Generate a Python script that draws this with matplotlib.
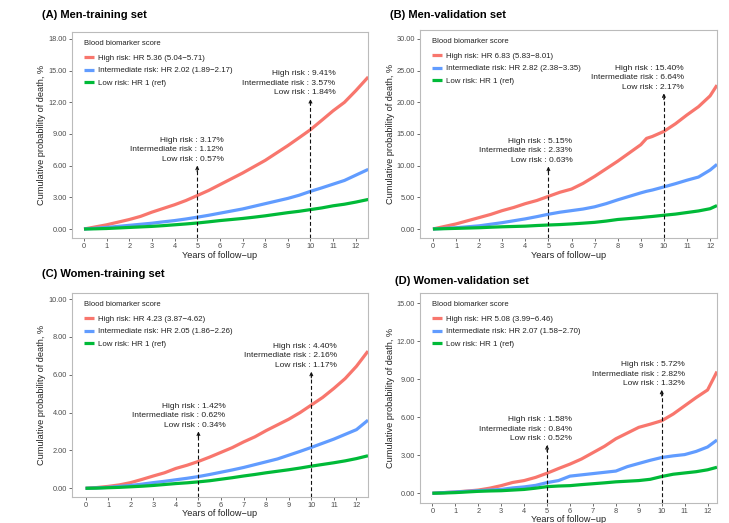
import matplotlib
matplotlib.use('Agg')
import matplotlib.pyplot as plt

plt.rcParams['font.family'] = ['Liberation Sans', 'DejaVu Sans']

# ---------------- data ----------------
years_a = [0, 0.5, 1, 1.5, 2, 2.5, 3, 3.5, 4, 4.5, 5, 5.5, 6, 6.5, 7, 7.5, 8, 8.5, 9, 9.5, 10, 10.5, 11, 11.5, 12, 12.55]
high_a = [0, 0.2, 0.4, 0.65, 0.9, 1.2, 1.6, 1.95, 2.3, 2.7, 3.17, 3.65, 4.2, 4.75, 5.3, 5.9, 6.5, 7.2, 7.9, 8.65, 9.41, 10.3, 11.2, 12.0, 13.1, 14.4]
mid_a = [0, 0.07, 0.15, 0.25, 0.35, 0.45, 0.55, 0.68, 0.8, 0.95, 1.12, 1.3, 1.5, 1.7, 1.9, 2.15, 2.4, 2.65, 2.9, 3.2, 3.57, 3.9, 4.25, 4.6, 5.1, 5.65]
low_a = [0, 0.02, 0.05, 0.1, 0.15, 0.2, 0.25, 0.32, 0.4, 0.48, 0.57, 0.68, 0.8, 0.9, 1.0, 1.12, 1.25, 1.4, 1.55, 1.68, 1.84, 2.0, 2.2, 2.35, 2.55, 2.8]

years_b = [0, 0.5, 1, 1.5, 2, 2.5, 3, 3.5, 4, 4.5, 5, 5.5, 6, 6.5, 7, 7.5, 8, 8.5, 9, 9.25, 9.5, 10, 10.5, 11, 11.5, 12, 12.3]
high_b = [0, 0.4, 0.8, 1.3, 1.8, 2.3, 2.9, 3.4, 4.0, 4.5, 5.15, 5.8, 6.3, 7.2, 8.3, 9.5, 10.7, 12.0, 13.3, 14.3, 14.6, 15.4, 16.6, 18.0, 19.3, 21.0, 22.7]
mid_b = [0, 0.1, 0.2, 0.35, 0.5, 0.75, 1.0, 1.3, 1.6, 1.95, 2.33, 2.65, 2.9, 3.15, 3.5, 4.0, 4.6, 5.15, 5.7, 5.95, 6.15, 6.64, 7.15, 7.7, 8.2, 9.3, 10.2]
low_b = [0, 0.05, 0.1, 0.15, 0.2, 0.28, 0.35, 0.4, 0.45, 0.55, 0.63, 0.7, 0.8, 0.92, 1.05, 1.25, 1.5, 1.65, 1.8, 1.9, 1.98, 2.17, 2.35, 2.6, 2.85, 3.2, 3.7]

years_c = [0, 0.5, 1, 1.5, 2, 2.5, 3, 3.5, 4, 4.5, 5, 5.5, 6, 6.5, 7, 7.5, 8, 8.5, 9, 9.5, 10, 10.5, 11, 11.5, 12, 12.51]
high_c = [0, 0.04, 0.1, 0.18, 0.3, 0.47, 0.65, 0.82, 1.05, 1.22, 1.42, 1.65, 1.9, 2.15, 2.45, 2.72, 3.05, 3.35, 3.65, 4.0, 4.40, 4.8, 5.28, 5.8, 6.45, 7.25]
mid_c = [0, 0.02, 0.05, 0.1, 0.15, 0.22, 0.3, 0.37, 0.45, 0.53, 0.62, 0.73, 0.85, 0.97, 1.1, 1.25, 1.4, 1.55, 1.75, 1.95, 2.16, 2.38, 2.6, 2.85, 3.1, 3.6]
low_c = [0, 0.01, 0.03, 0.05, 0.08, 0.11, 0.15, 0.2, 0.25, 0.29, 0.34, 0.4, 0.48, 0.56, 0.65, 0.73, 0.82, 0.9, 0.98, 1.07, 1.17, 1.26, 1.35, 1.45, 1.57, 1.72]

years_d = [0, 0.5, 1, 1.5, 2, 2.5, 3, 3.5, 4, 4.5, 5, 5.5, 6, 6.5, 7, 7.5, 8, 8.5, 9, 9.5, 10, 10.5, 11, 11.5, 12, 12.41]
high_d = [0, 0.05, 0.1, 0.17, 0.25, 0.4, 0.6, 0.85, 1.0, 1.25, 1.58, 1.95, 2.3, 2.7, 3.2, 3.7, 4.3, 4.75, 5.2, 5.45, 5.72, 6.25, 6.9, 7.55, 8.15, 9.6]
mid_d = [0, 0.05, 0.1, 0.15, 0.2, 0.25, 0.3, 0.42, 0.5, 0.62, 0.84, 1.0, 1.35, 1.45, 1.55, 1.65, 1.75, 2.1, 2.35, 2.6, 2.82, 2.95, 3.05, 3.3, 3.65, 4.2]
low_d = [0, 0.02, 0.05, 0.1, 0.15, 0.18, 0.2, 0.25, 0.3, 0.4, 0.52, 0.57, 0.6, 0.68, 0.75, 0.82, 0.9, 0.95, 1.0, 1.1, 1.32, 1.5, 1.6, 1.7, 1.85, 2.05]

titles = ["(A) Men-training set", "(B) Men-validation set",
          "(C) Women-training set", "(D) Women-validation set"]
legend_labels = [
    ["High risk: HR 5.36 (5.04\u22125.71)", "Intermediate risk: HR 2.02 (1.89\u22122.17)", "Low risk: HR 1 (ref)"],
    ["High risk: HR 6.83 (5.83\u22128.01)", "Intermediate risk: HR 2.82 (2.38\u22123.35)", "Low risk: HR 1 (ref)"],
    ["High risk: HR 4.23 (3.87\u22124.62)", "Intermediate risk: HR 2.05 (1.86\u22122.26)", "Low risk: HR 1 (ref)"],
    ["High risk: HR 5.08 (3.99\u22126.46)", "Intermediate risk: HR 2.07 (1.58\u22122.70)", "Low risk: HR 1 (ref)"],
]
pct5 = [["3.17%", "1.12%", "0.57%"], ["5.15%", "2.33%", "0.63%"],
        ["1.42%", "0.62%", "0.34%"], ["1.58%", "0.84%", "0.52%"]]
pct10 = [["9.41%", "3.57%", "1.84%"], ["15.40%", "6.64%", "2.17%"],
         ["4.40%", "2.16%", "1.17%"], ["5.72%", "2.82%", "1.32%"]]
y_ticks = [[0, 3, 6, 9, 12, 15, 18], [0, 5, 10, 15, 20, 25, 30],
           [0, 2, 4, 6, 8, 10], [0, 3, 6, 9, 12, 15]]
x_ticks = [0, 1, 2, 3, 4, 5, 6, 7, 8, 9, 10, 11, 12]

panels = [
    (years_a, high_a, mid_a, low_a),
    (years_b, high_b, mid_b, low_b),
    (years_c, high_c, mid_c, low_c),
    (years_d, high_d, mid_d, low_d),
]

# ---------------- layout ----------------
W, H = 729, 523
fig = plt.figure(figsize=(W / 100, H / 100), dpi=100)

# pixel boxes: left, top, right, bottom
boxes = [(72, 32, 368, 238), (420, 30, 717, 238), (72, 293, 368, 497), (420, 293, 717, 503)]
xlims = [(-0.53, 12.54), (-0.56, 12.3), (-0.6, 12.51), (-0.54, 12.41)]
ylims = [(-0.85, 18.66), (-1.42, 31.4), (-0.46, 10.32), (-0.77, 15.8)]
title_pos = [(42, 15.5), (390, 15), (42, 274), (395, 281.5)]
tips5 = [6.0, 9.85, 3.0, 3.8]
tips10 = [12.3, 21.4, 6.16, 8.16]
txt5_right = [6.16, 6.04, 6.2, 6.08]
txt10_right = [11.1, 10.87, 11.14, 11.0]

colors = ['#F8766D', '#619CFF', '#00BA38']
txt_color = '#222222'

for i, (yrs, hi, md, lo) in enumerate(panels):
    l, t, r, b = boxes[i]
    ax = fig.add_axes([l / W, 1 - b / H, (r - l) / W, (b - t) / H])
    wpx, hpx = r - l, b - t
    lines = []
    for ser, c, lab in zip((hi, md, lo), colors, legend_labels[i]):
        ln, = ax.plot(yrs, ser, color=c, lw=2.3, solid_capstyle='butt', label=lab)
        lines.append(ln)
    ax.set_xlim(*xlims[i])
    ax.set_ylim(*ylims[i])
    ax.set_xticks(x_ticks)
    ax.set_xticklabels([str(v) for v in x_ticks])
    ax.set_yticks(y_ticks[i])
    ax.set_yticklabels(["%.2f" % v for v in y_ticks[i]])
    ax.tick_params(axis='both', labelsize=5.3, labelcolor='#4D4D4D', color='#555555',
                   length=2.2, width=0.6, pad=1.2)
    for s in ax.spines.values():
        s.set_color('#BBBBBB')
        s.set_linewidth(0.8)

    ax.text(-30 / wpx, 0.5, "Cumulative probability of death, %", rotation=90,
            transform=ax.transAxes, ha='center', va='center', fontsize=6.6, color='#222222')
    ax.text(0.5, -17 / hpx, "Years of follow\u2212up", transform=ax.transAxes,
            ha='center', va='center', fontsize=6.6, color='#222222')

    fig.text(title_pos[i][0] / W, 1 - title_pos[i][1] / H, titles[i],
             ha='left', va='center', fontsize=8, fontweight='bold')

    leg = ax.legend(handles=lines, loc='upper left', bbox_to_anchor=(10 / wpx, 1 - 6 / hpx),
                    frameon=False, title="Blood biomarker score", fontsize=5.7,
                    title_fontsize=5.5, handlelength=1.25, handletextpad=0.5,
                    labelspacing=0.62, alignment='left', borderaxespad=0, borderpad=0.3)
    leg._legend_box.sep = 5
    for tx in leg.get_texts():
        tx.set_color('#222222')
    leg.get_title().set_color('#222222')

    ymin = ylims[i][0]
    for xv, tip, xr, pcts in ((5, tips5[i], txt5_right[i], pct5[i]),
                              (10, tips10[i], txt10_right[i], pct10[i])):
        ax.plot([xv, xv], [ymin, tip], color='#111111', lw=0.8, ls=(0, (3.5, 2.2)))
        ax.annotate('', xy=(xv, tip), xytext=(xv, tip - (ylims[i][1] - ylims[i][0]) * 0.03),
                    arrowprops=dict(arrowstyle='->', color='#111111', lw=0.8,
                                    mutation_scale=5, shrinkA=0, shrinkB=0))
        s = "High risk : %s\nIntermediate risk : %s\nLow risk : %s" % tuple(pcts)
        ax.annotate(s, xy=(xr, tip), xytext=(0, 2.0), textcoords='offset points',
                    ha='right', va='bottom', multialignment='right', fontsize=6.0,
                    color=txt_color, linespacing=1.5)

fig.savefig('out.png', dpi=100)
